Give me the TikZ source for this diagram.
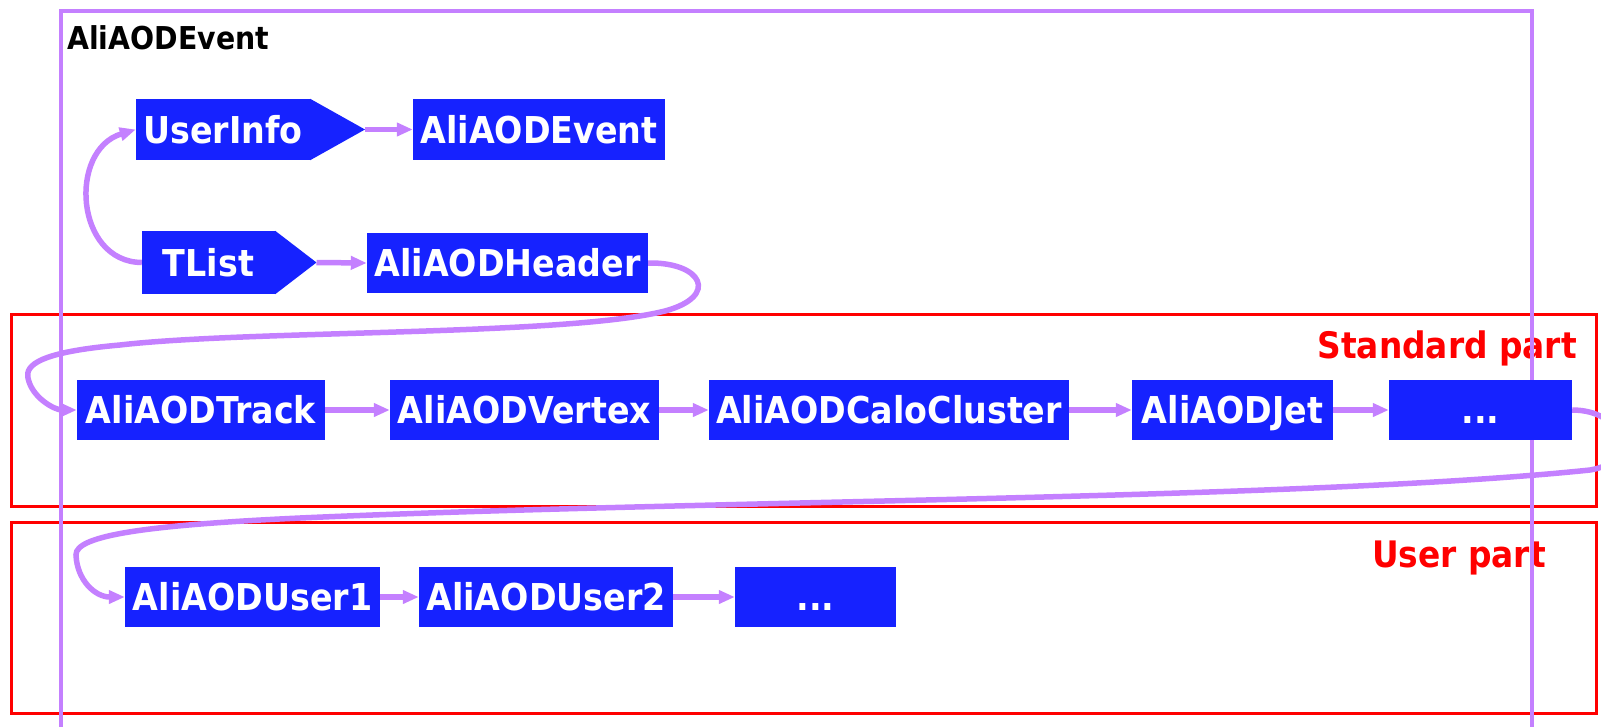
\documentclass[tikz,border=0pt]{standalone}
\usepackage{fontspec}
\newfontfamily\dvb{DejaVu Sans}[FakeStretch=0.9]
\usetikzlibrary{arrows.meta}
\definecolor{boxblue}{RGB}{22,34,255}
\definecolor{lilac}{RGB}{196,128,255}
\definecolor{redc}{RGB}{255,0,0}
\begin{document}
\begin{tikzpicture}[x=1pt,y=-1pt,
  blk/.style={fill=boxblue, text=white, font=\dvb\bfseries\fontsize{37}{40}\selectfont,
    inner sep=0pt, text height=27pt, text depth=0pt, anchor=center},
  link/.style={draw=lilac, line width=5.5pt, -{Triangle[length=16pt,width=13pt]}},
  partbox/.style={draw=redc, line width=3pt},
  partlbl/.style={text=redc, font=\dvb\bfseries\fontsize{36.5}{40}\selectfont, inner sep=0pt, anchor=base east},
  outer/.style={draw=lilac, line width=4pt}]
\useasboundingbox (0,0) rectangle (1601,726);
\clip (0,0) rectangle (1601,726);
\fill[white] (0,0) rectangle (1601,726);
% red part boxes
\draw[partbox] (11.5,314) rectangle (1596,506);
\draw[partbox] (11.5,522) rectangle (1596,713);
\node[partlbl] (stdlbl) at (1577,358) {Standard part};
\node[partlbl] (usrlbl) at (1546,567) {User part};
% outer AliAODEvent box
\draw[outer] (61,11) rectangle (1532,760);
\node[font=\dvb\bfseries\fontsize{31.5}{34}\selectfont, inner sep=0pt, anchor=base west] (evlbl) at (67,49) {AliAODEvent};
% top nodes
\node[blk, minimum width=174pt, minimum height=61pt] (ui) at (223,129.5) {UserInfo};
\fill[boxblue] (ui.north east) -- (365,129.5) -- (ui.south east) -- cycle;
\coordinate (uitip) at (365,129.5);
\node[blk, minimum width=252pt, minimum height=61pt] (ev) at (539,129.5) {AliAODEvent};
\node[blk, minimum width=133pt, minimum height=63pt] (tl) at (208.5,262.5) {TList};
\fill[boxblue] (tl.north east) -- (316.5,262.5) -- (tl.south east) -- cycle;
\coordinate (tltip) at (316.5,262.5);
\node[blk, minimum width=281pt, minimum height=60pt] (hd) at (507.5,263) {AliAODHeader};
% standard row
\node[blk, minimum width=248pt, minimum height=60pt] (trk) at (201,410) {AliAODTrack};
\node[blk, minimum width=269pt, minimum height=60pt] (vtx) at (524.5,410) {AliAODVertex};
\node[blk, minimum width=360pt, minimum height=60pt] (calo) at (889,410) {AliAODCaloCluster};
\node[blk, minimum width=201pt, minimum height=60pt] (jet) at (1232.5,410) {AliAODJet};
\node[blk, minimum width=183pt, minimum height=60pt] (dt1) at (1480.5,410) {...};
% user row
\node[blk, minimum width=255pt, minimum height=60pt] (u1) at (252.5,597) {AliAODUser1};
\node[blk, minimum width=254pt, minimum height=60pt] (u2) at (546,597) {AliAODUser2};
\node[blk, minimum width=161pt, minimum height=60pt] (dt2) at (815.5,597) {...};
% connectors
\draw[link] (uitip) -- (ev.west);
\draw[link] (tltip) -- (hd.west);
\draw[link] (tl.west) .. controls (75,262) and (68,150) .. (ui.west);
\draw[link] (hd.east) .. controls (702,262) and (720,296) .. (665,311)
  .. controls (565,336) and (250,330) .. (120,345)
  .. controls (40,352) and (25,365) .. (28,378)
  .. controls (32,398) and (55,410) .. (trk.west);
\draw[link] (trk.east) -- (vtx.west);
\draw[link] (vtx.east) -- (calo.west);
\draw[link] (calo.east) -- (jet.west);
\draw[link] (jet.east) -- (dt1.west);
\draw[link] (dt1.east) .. controls (1625,410) and (1640,462) .. (1590,470)
  .. controls (1300,500) and (700,500) .. (300,518)
  .. controls (150,525) and (75,535) .. (76,555)
  .. controls (77,580) and (95,597) .. (u1.west);
\draw[link] (u1.east) -- (u2.west);
\draw[link] (u2.east) -- (dt2.west);
\end{tikzpicture}
\end{document}
